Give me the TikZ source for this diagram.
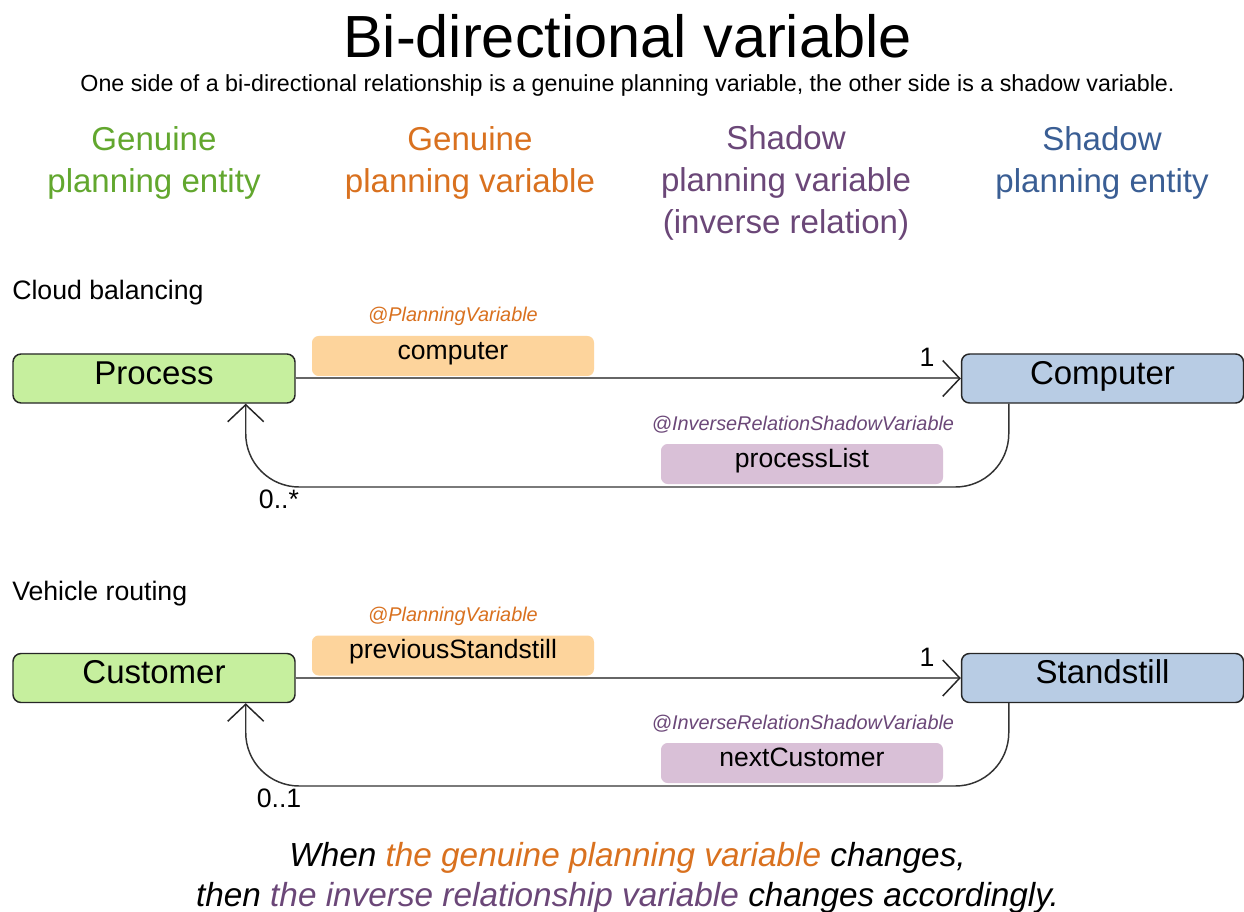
\documentclass[tikz,border=0pt]{standalone}
\usepackage{fontspec}
\setmainfont{Liberation Sans}
\usetikzlibrary{arrows.meta,calc}
\definecolor{gEnt}{HTML}{62A72E}
\definecolor{gVar}{HTML}{D9711F}
\definecolor{sVar}{HTML}{6B4778}
\definecolor{sEnt}{HTML}{3A5E94}
\definecolor{gFill}{HTML}{C6EF9E}
\definecolor{bFill}{HTML}{B8CCE4}
\definecolor{oFill}{HTML}{FDD49C}
\definecolor{pFill}{HTML}{D9C0D7}
\tikzset{
  titletxt/.style={font=\fontsize{44.6}{50}\selectfont, anchor=base, inner sep=0},
  subtxt/.style={font=\fontsize{17.45}{20}\selectfont, anchor=base, inner sep=0},
  hdr/.style={font=\fontsize{24.8}{31.5}\selectfont, align=center, anchor=base, inner sep=0},
  sect/.style={font=\fontsize{20}{24}\selectfont, anchor=base west, inner sep=0},
  anno/.style={font=\fontsize{14.9}{18}\selectfont\itshape, anchor=base, inner sep=0},
  entity/.style={draw=black!85, line width=1.1pt, rounded corners=6pt,
    minimum width=211.5pt, minimum height=36.75pt, inner sep=0,
    font=\fontsize{24.75}{30}\selectfont, text height=18pt, text depth=9.75pt},
  lblbox/.style={rounded corners=5pt, minimum width=211.5pt, minimum height=30pt,
    inner sep=0, font=\fontsize{19.9}{24}\selectfont, text height=15pt, text depth=10.5pt},
  mult/.style={font=\fontsize{20}{24}\selectfont, anchor=base, inner sep=0},
  bottomtxt/.style={font=\fontsize{25}{30}\selectfont\itshape, anchor=base, inner sep=0},
  fwd/.style={draw=black!60, line width=1.5pt,
    -{Straight Barb[length=12.75pt, width=27pt, line width=1.1pt, color=black!85]}},
  ret/.style={draw=black!80, line width=1.1pt, rounded corners=40pt,
    -{Straight Barb[length=12.75pt, width=27pt, line width=1.1pt, color=black!85]}}
}
\begin{document}
\begin{tikzpicture}[x=0.75pt,y=-0.75pt]
\useasboundingbox[fill=white] (0,0) rectangle (1244,912);

\node[titletxt] (title) at (627.5,58) {Bi-directional variable};
\node[subtxt] (subtitle) at (627.5,92) {One side of a bi-directional relationship is a genuine planning variable, the other side is a shadow variable.};

\node[hdr, text=gEnt] (h1) at (154,193) {Genuine\\planning entity};
\node[hdr, text=gVar] (h2) at (470,193) {Genuine\\planning variable};
\node[hdr, text=sVar] (h3) at (786,234) {Shadow\\planning variable\\(inverse relation)};
\node[hdr, text=sEnt] (h4) at (1102,193) {Shadow\\planning entity};

% Cloud balancing
\node[sect] (cb) at (12,300) {Cloud balancing};
\node[entity, fill=gFill] (process) at (154,378.5) {Process};
\node[entity, fill=bFill] (computer) at (1102.5,378.5) {Computer};
\node[anno, text=gVar] (pv1) at (453,322) {@PlanningVariable};
\node[lblbox, fill=oFill] (lcomputer) at (453,356) {computer};
\node[anno, text=sVar] (irv1) at (803,430) {@InverseRelationShadowVariable};
\node[lblbox, fill=pFill] (lprocesslist) at (802,464) {processList};
\node[mult] (m1a) at (927,367) {1};
\node[mult] (m1b) at (279,508) {0..*};
\draw[fwd] (process.east) -- (computer.west);
\coordinate (c1s) at ($(computer.south west)+(48,0)$);
\coordinate (p1s) at ($(process.south east)+(-50,0)$);
\coordinate (r1a) at (c1s |- 0,487);
\coordinate (r1b) at (p1s |- 0,487);
\draw[ret] (c1s) -- (r1a) -- (r1b) -- (p1s);

% Vehicle routing
\node[sect] (vr) at (12,600) {Vehicle routing};
\node[entity, fill=gFill] (customer) at (154,678) {Customer};
\node[entity, fill=bFill] (standstill) at (1102.5,678) {Standstill};
\node[anno, text=gVar] (pv2) at (453,621) {@PlanningVariable};
\node[lblbox, fill=oFill] (lprev) at (453,655.5) {previousStandstill};
\node[anno, text=sVar] (irv2) at (803,729) {@InverseRelationShadowVariable};
\node[lblbox, fill=pFill] (lnext) at (802,763) {nextCustomer};
\node[mult] (m2a) at (927,666) {1};
\node[mult] (m2b) at (279,807) {0..1};
\draw[fwd] (customer.east) -- (standstill.west);
\coordinate (c2s) at ($(standstill.south west)+(48,0)$);
\coordinate (p2s) at ($(customer.south east)+(-50,0)$);
\coordinate (r2a) at (c2s |- 0,786);
\coordinate (r2b) at (p2s |- 0,786);
\draw[ret] (c2s) -- (r2a) -- (r2b) -- (p2s);

\node[bottomtxt] (bt1) at (627.5,866) {When \textcolor{gVar}{the genuine planning variable} changes,};
\node[bottomtxt] (bt2) at (627.5,906) {then \textcolor{sVar}{the inverse relationship variable} changes accordingly.};
\end{tikzpicture}
\end{document}
